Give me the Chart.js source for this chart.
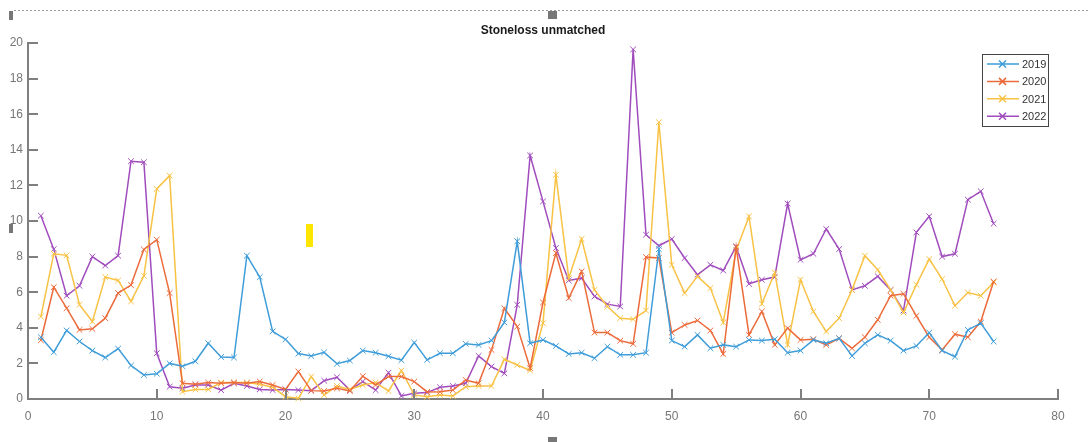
<!DOCTYPE html>
<html>
<head>
<meta charset="utf-8">
<script src="https://cdn.jsdelivr.net/npm/chart.js@4/dist/chart.umd.min.js"></script>
<style>
  html, body { margin: 0; padding: 0; background: #fff; }
  #wrap { position: relative; width: 1089px; height: 442px; }
</style>
</head>
<body>
<div id="wrap"><canvas id="chart" width="1089" height="442"></canvas></div>
<script>
// x values (point index)
const days = [1,2,3,4,5,6,7,8,9,10,11,12,13,14,15,16,17,18,19,20,21,22,23,24,25,
  26,27,28,29,30,31,32,33,34,35,36,37,38,39,40,41,42,43,44,45,46,47,48,49,50,
  51,52,53,54,55,56,57,58,59,60,61,62,63,64,65,66,67,68,69,70,71,72,73,74,75];

const y2019 = [3.47,2.63,3.85,3.23,2.72,2.33,2.83,1.88,1.35,1.42,
  2.0,1.84,2.12,3.13,2.36,2.33,8.05,6.85,3.8,3.35,
  2.55,2.42,2.62,1.98,2.16,2.72,2.6,2.4,2.18,3.17,
  2.2,2.57,2.57,3.1,3.04,3.28,4.3,8.86,3.13,3.32,
  2.98,2.53,2.6,2.29,2.94,2.48,2.48,2.6,8.42,3.28,
  2.94,3.6,2.85,3.04,2.94,3.32,3.28,3.36,2.6,2.72,
  3.32,3.13,3.41,2.42,3.13,3.6,3.28,2.72,2.98,3.73,
  2.72,2.38,3.88,4.26,3.23];

const y2020 = [3.3,6.28,5.1,3.88,3.94,4.54,5.95,6.4,8.4,8.95,
  5.95,0.88,0.83,0.92,0.88,0.92,0.88,0.98,0.79,0.54,
  1.54,0.47,0.45,0.6,0.45,1.28,0.79,1.26,1.26,0.98,
  0.4,0.41,0.5,1.07,0.88,2.76,5.1,4.07,1.73,5.42,
  8.2,5.67,7.17,3.73,3.73,3.28,3.1,7.97,7.92,3.73,
  4.16,4.41,3.85,2.53,8.54,3.6,4.92,3.04,3.98,3.32,
  3.36,3.04,3.41,2.85,3.47,4.45,5.8,5.91,4.67,3.47,
  2.76,3.64,3.47,4.35,6.6];

const y2021 = [4.63,8.16,8.07,5.3,4.35,6.85,6.66,5.48,6.92,11.8,
  12.55,0.41,0.54,0.54,0.92,0.92,0.92,0.83,0.66,0.13,
  0.04,1.26,0.23,0.73,0.54,0.79,0.92,0.45,1.6,0.23,
  0.13,0.23,0.17,0.69,0.73,0.73,2.23,1.91,1.6,4.26,
  12.6,6.79,8.99,6.13,5.2,4.54,4.48,4.97,15.55,7.54,
  5.95,6.89,6.23,4.3,8.35,10.26,5.35,7.1,3.04,6.7,
  4.92,3.79,4.54,6.13,8.05,7.26,6.13,4.86,6.42,7.86,
  6.74,5.24,5.98,5.8,6.55];

const y2022 = [10.3,8.42,5.8,6.36,8.0,7.5,8.05,13.36,13.3,2.57,
  0.69,0.6,0.79,0.79,0.5,0.88,0.73,0.54,0.5,0.54,
  0.5,0.47,1.03,1.22,0.5,0.98,0.5,1.48,0.17,0.32,
  0.36,0.66,0.73,0.88,2.42,1.82,1.44,5.29,13.68,11.1,
  8.48,6.66,6.79,5.76,5.33,5.2,19.64,9.23,8.61,8.99,
  7.92,6.98,7.54,7.22,8.57,6.47,6.7,6.85,10.98,7.82,
  8.16,9.55,8.42,6.13,6.36,6.89,6.13,4.97,9.36,10.26,
  8.0,8.16,11.2,11.67,9.85];

const seriesNames = ['2019', '2020', '2021', '2022'];
const seriesValues = [y2019, y2020, y2021, y2022];
const seriesColors = ['#3f9dd9', '#ec6b3b', '#f8c245', '#a04cbd'];

const xTicks = [0, 10, 20, 30, 40, 50, 60, 70, 80];
const yTicks = [0, 2, 4, 6, 8, 10, 12, 14, 16, 18, 20];

const FONT = "'Liberation Sans', Arial, sans-serif";

// inward tick marks, title, legend and page decorations
const decorPlugin = {
    id: 'decor',
    afterDraw(chart) {
        const ctx = chart.ctx;
        const xs = chart.scales.x, ys = chart.scales.y;
        const area = chart.chartArea;
        ctx.save();

        // inward ticks
        ctx.strokeStyle = '#7f7f7f';
        ctx.lineWidth = 2;
        ctx.beginPath();
        xTicks.forEach(v => {
            const px = Math.round(xs.getPixelForValue(v));
            ctx.moveTo(px, area.bottom);
            ctx.lineTo(px, area.bottom - 10);
        });
        yTicks.forEach(v => {
            const py = Math.round(ys.getPixelForValue(v));
            ctx.moveTo(area.left, py);
            ctx.lineTo(area.left + 10, py);
        });
        ctx.stroke();

        // title
        ctx.fillStyle = '#1a1a1a';
        ctx.font = 'bold 12px ' + FONT;
        ctx.textAlign = 'center';
        ctx.textBaseline = 'alphabetic';
        ctx.fillText('Stoneloss unmatched', 543, 34);

        // legend
        const lx = 982, ly = 54, lw = 66, lh = 72;
        ctx.fillStyle = '#fff';
        ctx.fillRect(lx, ly, lw, lh);
        ctx.strokeStyle = '#444';
        ctx.lineWidth = 1;
        ctx.strokeRect(lx + 0.5, ly + 0.5, lw, lh);
        ctx.font = '11px ' + FONT;
        ctx.textAlign = 'left';
        ctx.textBaseline = 'middle';
        seriesNames.forEach((name, i) => {
            const yy = 64 + i * 17.4;
            ctx.strokeStyle = seriesColors[i];
            ctx.lineWidth = 1.5;
            ctx.beginPath();
            ctx.moveTo(987, yy);
            ctx.lineTo(1019, yy);
            ctx.moveTo(999, yy - 3.5);
            ctx.lineTo(1006, yy + 3.5);
            ctx.moveTo(999, yy + 3.5);
            ctx.lineTo(1006, yy - 3.5);
            ctx.stroke();
            ctx.fillStyle = '#333';
            ctx.fillText(name, 1022, yy + 1);
        });

        // dotted top border
        ctx.strokeStyle = '#9a9a9a';
        ctx.lineWidth = 1;
        ctx.setLineDash([2, 2]);
        ctx.beginPath();
        ctx.moveTo(14, 10.5);
        ctx.lineTo(1089, 10.5);
        ctx.stroke();
        ctx.setLineDash([]);

        // selection handles
        ctx.fillStyle = '#777';
        ctx.fillRect(9, 11, 4, 9);
        ctx.fillRect(9, 224, 4, 9);
        ctx.fillRect(548, 11, 9, 8);
        ctx.fillRect(548, 437, 9, 5);

        // yellow mark
        ctx.fillStyle = '#ffe600';
        ctx.fillRect(306, 224, 7, 23);

        ctx.restore();
    }
};

const datasets = seriesNames.map((name, i) => ({
    label: name,
    data: days.map((d, k) => ({ x: d, y: seriesValues[i][k] })),
    borderColor: seriesColors[i],
    backgroundColor: seriesColors[i],
    borderWidth: 1.5,
    pointStyle: 'crossRot',
    pointRadius: 4,
    pointBorderWidth: 1,
    pointBorderColor: seriesColors[i],
    tension: 0,
    clip: false
}));

new Chart(document.getElementById('chart').getContext('2d'), {
    type: 'line',
    data: { datasets: datasets },
    options: {
        responsive: false,
        animation: false,
        devicePixelRatio: 1,
        layout: { padding: { top: 43, right: 31, left: 0, bottom: 0 } },
        plugins: {
            legend: { display: false },
            tooltip: { enabled: false },
            title: { display: false }
        },
        scales: {
            x: {
                type: 'linear',
                min: 0,
                max: 80,
                afterFit: s => { s.height = 43; },
                afterBuildTicks: s => { s.ticks = xTicks.map(v => ({ value: v })); },
                grid: { display: false, drawTicks: false },
                border: { display: true, color: '#7f7f7f', width: 2 },
                ticks: {
                    padding: 10,
                    color: '#767676',
                    font: { family: FONT, size: 12 },
                    maxRotation: 0
                }
            },
            y: {
                type: 'linear',
                min: 0,
                max: 20,
                afterFit: s => { s.width = 28; },
                afterBuildTicks: s => { s.ticks = yTicks.map(v => ({ value: v })); },
                grid: { display: false, drawTicks: false },
                border: { display: true, color: '#7f7f7f', width: 2 },
                ticks: {
                    padding: 5,
                    color: '#767676',
                    font: { family: FONT, size: 12 }
                }
            }
        }
    },
    plugins: [decorPlugin]
});
</script>
</body>
</html>
